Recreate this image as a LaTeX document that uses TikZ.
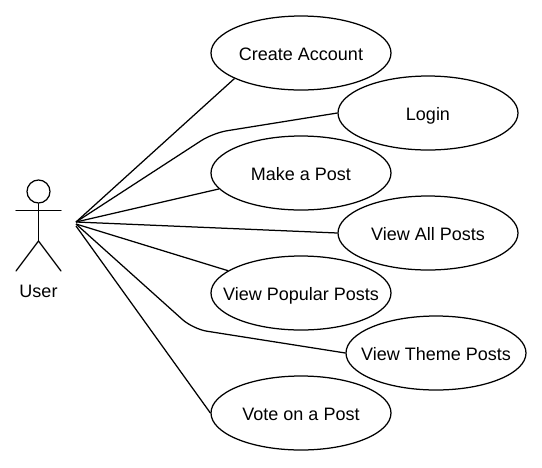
\documentclass[tikz,border=0pt]{standalone}
\usepackage{fontspec}
\setmainfont{Liberation Sans}
\usetikzlibrary{shapes.geometric}
\tikzset{
  usecase/.style={draw=black,ellipse,minimum width=180pt,minimum height=74pt,inner xsep=-30pt,inner ysep=-4pt,text height=17pt,text depth=3pt,line width=1.25pt,font=\fontsize{18}{21}\selectfont,text=black},
  link/.style={draw=black,line width=1.25pt,line join=round},
  stick/.style={draw=black,line width=1.25pt,line cap=round},
  actorhead/.style={draw=black,circle,minimum size=23pt,inner sep=0pt,line width=1.25pt},
  actorlabel/.style={inner sep=0pt,text height=17pt,text depth=3pt,font=\fontsize{18}{21}\selectfont,text=black}
}
\begin{document}
\begin{tikzpicture}[x=1pt,y=-1pt]
\useasboundingbox (0,0) rectangle (542,467);
\node[usecase] (create) at (301,53) {Create Account};
\node[usecase] (login) at (428,113) {Login};
\node[usecase] (make) at (301,173) {Make a Post};
\node[usecase] (all) at (428,233) {View All Posts};
\node[usecase] (popular) at (301,293) {View Popular Posts};
\node[usecase] (theme) at (436,353) {View Theme Posts};
\node[usecase] (vote) at (301,413) {Vote on a Post};
\node[actorhead] (head) at (38.5,191.5) {};
\node[actorlabel] (user) at (38.5,290) {User};
\coordinate (hip) at (38.5,241);
\coordinate (lhand) at (16,210.5);
\coordinate (rhand) at (61,210.5);
\coordinate (lfoot) at (16,271);
\coordinate (rfoot) at (61,271);
\coordinate (srcA) at (76,222);
\coordinate (srcB) at (76,224);
\coordinate (srcC) at (76,226);
\coordinate (bendLogin) at (213,133);
\coordinate (bendTheme) at (193,329);
\draw[stick] (head) -- (hip);
\draw[stick] (lhand) -- (rhand);
\draw[stick] (lfoot) -- (hip) -- (rfoot);
\draw[link] (srcA) -- (create.201);
\draw[link,rounded corners=14pt] (srcA) -- (bendLogin) -- (login.west);
\draw[link] (srcA) -- (make.191);
\draw[link] (srcA) -- (all.west);
\draw[link] (srcB) -- (popular.163);
\draw[link,rounded corners=14pt] (srcB) -- (bendTheme) -- (theme.west);
\draw[link] (srcC) -- (vote.west);
\end{tikzpicture}
\end{document}
